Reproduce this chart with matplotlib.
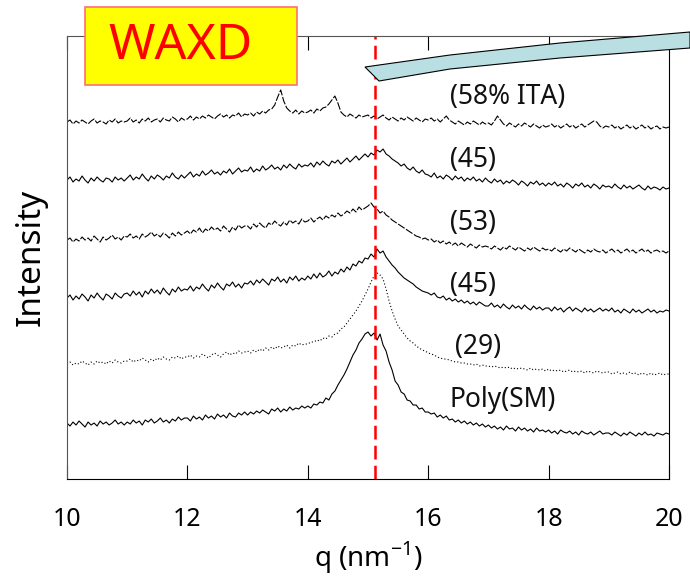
import numpy as np
import matplotlib.pyplot as plt
from matplotlib.patches import Polygon, Rectangle

plt.rcParams['font.family'] = ['Noto Sans', 'DejaVu Sans']
plt.rcParams['axes.unicode_minus'] = False

# --------------------------------------------------
# Data (offset intensity, arbitrary units)
# one row per nm^-1, step 0.05
# --------------------------------------------------
q = np.linspace(10, 20, 201)

ita58 = [357, 359, 355, 358, 356, 359, 357, 355, 358, 360, 356, 358, 357, 355, 359, 357, 360, 356, 358, 357,
         358, 361, 357, 359, 356, 360, 358, 361, 357, 359, 360, 357, 361, 359, 358, 362, 360, 357, 361, 359,
         360, 363, 359, 362, 360, 363, 361, 364, 362, 360, 363, 365, 362, 364, 361, 364, 363, 366, 362, 365,
         364, 366, 363, 367, 365, 368, 366, 369, 370, 374, 382, 389, 378, 371, 368, 366, 369, 365, 368, 366,
         367, 369, 366, 370, 368, 371, 372, 375, 379, 383, 376, 367, 364, 362, 365, 363, 361, 364, 362, 363,
         364, 361, 363, 360, 362, 364, 361, 359, 362, 360, 358, 361, 359, 362, 360, 358, 361, 359, 357, 360,
         359, 361, 358, 360, 357, 360, 363, 359, 357, 355, 358, 356, 354, 357, 355, 358, 356, 354, 357, 355,
         356, 354, 358, 363, 359, 355, 353, 356, 354, 352, 355, 353, 356, 354, 352, 355, 353, 351, 354, 352,
         353, 355, 352, 354, 351, 353, 355, 352, 354, 351, 353, 355, 352, 354, 356, 358, 357, 353, 351, 353,
         352, 354, 351, 353, 350, 352, 354, 351, 353, 350, 352, 354, 351, 353, 350, 352, 353, 350, 352, 351, 352]

s45a = [299, 302, 297, 300, 298, 303, 299, 296, 301, 298, 302, 299, 297, 301, 300, 297, 302, 299, 301, 298,
        301, 304, 299, 302, 300, 305, 301, 298, 303, 300, 304, 302, 299, 303, 301, 306, 302, 300, 304, 301,
        304, 307, 302, 305, 303, 308, 304, 306, 309, 305, 307, 304, 308, 306, 310, 305, 308, 311, 307, 309,
        308, 312, 307, 310, 308, 313, 309, 311, 314, 310, 312, 309, 314, 311, 315, 312, 310, 315, 312, 314,
        313, 316, 312, 317, 314, 318, 315, 313, 318, 316, 319, 315, 318, 321, 317, 320, 323, 319, 322, 325,
        322, 326, 324, 329, 327, 330, 325, 323, 320, 318, 316, 313, 315, 311, 309, 312, 308, 306, 309, 305,
        304, 302, 306, 301, 303, 300, 304, 302, 299, 303, 300, 302, 298, 301, 299, 302, 298, 300, 297, 301,
        298, 296, 300, 297, 299, 295, 298, 296, 299, 297, 294, 298, 296, 293, 297, 295, 298, 294, 296, 293,
        296, 294, 297, 293, 295, 292, 296, 294, 291, 295, 293, 296, 292, 294, 291, 295, 293, 290, 294, 292,
        293, 291, 295, 292, 290, 294, 291, 293, 290, 292, 294, 291, 289, 293, 290, 292, 291, 289, 292, 290, 291]

s53 = [239, 241, 237, 240, 238, 242, 239, 241, 238, 243, 240, 237, 242, 239, 241, 244, 240, 242, 239, 243,
       242, 245, 241, 243, 240, 245, 242, 244, 247, 243, 245, 242, 246, 244, 241, 246, 243, 247, 244, 246,
       248, 245, 249, 247, 251, 246, 250, 248, 252, 249, 251, 248, 253, 250, 247, 252, 249, 254, 251, 253,
       253, 250, 255, 252, 256, 253, 251, 256, 254, 258, 255, 253, 257, 254, 259, 256, 258, 255, 260, 257,
       258, 261, 257, 260, 262, 259, 263, 261, 264, 262, 266, 263, 265, 268, 266, 270, 267, 272, 269, 271,
       273, 276, 272, 270, 266, 268, 264, 262, 259, 257, 255, 253, 251, 249, 247, 245, 243, 242, 240, 241,
       239, 240, 237, 239, 236, 238, 235, 237, 234, 236, 233, 236, 234, 232, 235, 233, 231, 234, 232, 233,
       232, 230, 233, 231, 229, 232, 230, 233, 231, 229, 232, 230, 228, 231, 229, 232, 230, 228, 231, 229,
       230, 228, 231, 229, 227, 230, 228, 231, 229, 227, 230, 228, 226, 229, 227, 230, 228, 227, 229, 226,
       228, 230, 227, 229, 226, 228, 230, 227, 229, 226, 228, 230, 227, 229, 226, 228, 229, 227, 228, 226, 228]

s45b = [181, 184, 179, 183, 180, 185, 182, 178, 184, 181, 186, 182, 179, 185, 183, 180, 186, 183, 181, 185,
        186, 183, 188, 184, 187, 182, 188, 185, 190, 186, 189, 185, 191, 187, 184, 190, 187, 192, 188, 190,
        189, 193, 188, 192, 190, 195, 191, 188, 194, 191, 196, 192, 189, 195, 193, 197, 192, 195, 191, 196,
        195, 198, 194, 199, 196, 200, 197, 194, 200, 198, 202, 197, 200, 196, 202, 199, 203, 198, 201, 199,
        203, 200, 205, 201, 206, 202, 204, 208, 203, 207, 205, 210, 207, 212, 209, 215, 213, 218, 216, 221,
        220, 225, 222, 230, 226, 228, 222, 218, 214, 211, 207, 204, 201, 199, 197, 195, 192, 190, 188, 187,
        186, 184, 186, 182, 181, 183, 179, 181, 178, 180, 177, 179, 176, 178, 175, 177, 174, 177, 175, 173,
        173, 176, 172, 174, 171, 175, 172, 170, 174, 171, 173, 170, 174, 171, 169, 173, 170, 172, 169, 171,
        171, 168, 172, 169, 171, 167, 170, 172, 168, 171, 169, 167, 171, 168, 170, 167, 169, 171, 168, 170,
        168, 171, 167, 169, 166, 170, 168, 166, 170, 167, 169, 166, 168, 170, 167, 169, 166, 168, 167, 169, 168]

s29 = [115, 117, 114, 116, 115, 118, 116, 114, 117, 115, 118, 116, 117, 115, 118, 116, 119, 117, 116, 118,
       118, 120, 117, 119, 118, 121, 119, 117, 120, 118, 121, 119, 122, 120, 119, 122, 121, 123, 120, 122,
       122, 124, 121, 123, 122, 125, 123, 121, 124, 126, 124, 122, 125, 127, 124, 126, 125, 128, 126, 127,
       128, 126, 129, 127, 130, 128, 131, 129, 132, 130, 133, 131, 132, 134, 131, 134, 133, 136, 134, 135,
       135, 137, 137, 139, 138, 141, 140, 143, 142, 145, 146, 150, 152, 156, 160, 164, 168, 173, 178, 184,
       190, 197, 203, 206, 204, 200, 190, 178, 168, 160, 153, 149, 145, 141, 138, 136, 133, 131, 129, 128,
       126, 125, 124, 122, 121, 120, 120, 119, 118, 117, 117, 116, 116, 115, 115, 114, 115, 113, 114, 113,
       113, 112, 113, 112, 111, 112, 111, 112, 110, 111, 110, 111, 110, 109, 111, 109, 110, 109, 110, 108,
       110, 108, 109, 108, 109, 107, 108, 109, 107, 108, 107, 108, 106, 108, 107, 106, 108, 107, 106, 107,
       107, 105, 106, 107, 105, 106, 105, 107, 105, 106, 104, 106, 105, 104, 106, 104, 105, 106, 104, 105, 105]

poly_sm = [56, 53, 57, 54, 58, 55, 52, 57, 54, 56, 53, 58, 55, 57, 54, 56, 59, 55, 57, 54,
           57, 55, 59, 56, 58, 54, 59, 57, 60, 56, 58, 61, 57, 59, 56, 60, 58, 62, 59, 61,
           61, 58, 63, 60, 62, 59, 64, 61, 63, 60, 65, 62, 64, 61, 66, 63, 62, 66, 64, 67,
           64, 67, 65, 68, 66, 69, 67, 65, 70, 68, 71, 67, 70, 68, 72, 69, 71, 70, 73, 71,
           73, 71, 75, 74, 77, 76, 81, 79, 85, 88, 94, 99, 104, 110, 117, 124, 129, 136, 140, 145,
           147, 143, 146, 139, 145, 134, 128, 117, 109, 98, 94, 87, 85, 79, 78, 74, 74, 70, 71, 67,
           67, 65, 66, 62, 64, 61, 63, 59, 60, 57, 59, 56, 58, 55, 57, 54, 56, 53, 55, 52,
           54, 51, 53, 50, 52, 49, 53, 50, 51, 48, 52, 49, 51, 48, 50, 47, 51, 48, 49, 47,
           49, 46, 48, 45, 49, 47, 46, 48, 45, 47, 44, 48, 46, 45, 47, 44, 46, 48, 45, 46,
           46, 44, 47, 45, 43, 46, 44, 47, 45, 43, 46, 44, 47, 44, 45, 43, 46, 45, 44, 46, 45]

series = [ita58, s45a, s53, s45b, s29, poly_sm]
labels = ["(58% ITA)", "(45)", "(53)", "(45)", "(29)", "Poly(SM)"]
label_q = [16.36, 16.36, 16.36, 16.36, 16.45, 16.36]
label_h = [382, 319, 256, 194, 132, 79]
styles = [(0, (7, 1.5)), "-", (0, (7, 1.5)), "-", (0, (1, 2)), "-"]
peak_q = 15.12

xticks = [10, 12, 14, 16, 18, 20]

# --------------------------------------------------
# Plot
# --------------------------------------------------
fig = plt.figure(figsize=(6.9, 5.77), dpi=100)
ax = fig.add_axes([0.0971, 0.1698, 0.8725, 0.7678])

for ys, ls in zip(series, styles):
    ax.plot(q, ys, color="black", lw=0.8, linestyle=ls)

for txt, xq, yh in zip(labels, label_q, label_h):
    ax.text(xq, yh, txt, fontsize=19, color="#111111", ha="left", va="center")

ax.axvline(peak_q, color="red", lw=1.8, dashes=(5.5, 2.5))

ax.set_xlim(10, 20)
ax.set_ylim(0, 443)
ax.set_xticks(xticks)
ax.set_yticks([])
ax.tick_params(axis="x", direction="in", length=10, top=True,
               labelsize=18, pad=20)
for side in ["left", "top"]:
    ax.spines[side].set_color("#555555")

ax.set_xlabel("q (nm$^{\\mathregular{-1}}$)", fontsize=20, labelpad=6)
ax.set_ylabel("Intensity", fontsize=24, labelpad=14)

# WAXD tag
fig.patches.append(Rectangle((85 / 690, 1 - 85 / 577), 212 / 690, 78 / 577,
                             transform=fig.transFigure, facecolor="yellow",
                             edgecolor="#ff7070", lw=1.2, zorder=5))
fig.text(181 / 690, 1 - 46 / 577, "WAXD", fontsize=36, color="red",
         ha="center", va="center", zorder=6)

# light blue wedge pointing at the peak line
pts = [(365, 67), (450, 55), (560, 43), (690, 32), (690, 48), (560, 58),
       (450, 69), (379, 81)]
wedge = Polygon([(x / 690, 1 - y / 577) for x, y in pts], closed=True,
                transform=fig.transFigure, facecolor="#b9dfe2",
                edgecolor="black", lw=0.8, zorder=5)
fig.patches.append(wedge)

fig.savefig("out.png", dpi=100)
